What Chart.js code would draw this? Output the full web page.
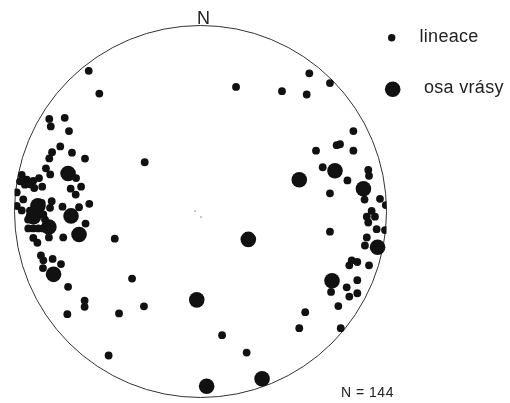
<!DOCTYPE html>
<html>
<head>
<meta charset="utf-8">
<script src="https://cdn.jsdelivr.net/npm/chart.js@4.4.1/dist/chart.umd.min.js"></script>
<style>
  html, body { margin: 0; padding: 0; background: #fff; }
  #wrap { width: 510px; height: 403px; }
</style>
</head>
<body>
<div id="wrap"><canvas id="myChart" width="510" height="403"></canvas></div>
<script>
// souradnice v ploose projekce (polomer = 1)
var lineaceX = [
  -0.601, -0.544, 0.191, 0.585, 0.696, 0.438, 0.571, -0.300,
  -0.813, -0.730, -0.805, -0.707, -0.754, -0.798, -0.691, -0.813, -0.621, -0.831,
  -0.808, -0.669, -0.698, -0.642, -0.671, -0.598, -0.653, -0.742, -0.618, -0.738,
  -0.899, -0.877, -0.926, -0.899, -0.872, -0.847, -0.800, -0.961, -0.988, -0.953,
  -0.988, -0.961, -0.934, -0.944, -0.894, -0.899, -0.868, -0.851, -0.970, -0.854,
  -0.845, -0.809, -0.858, -0.845, -0.847, -0.795, -0.750, -0.712,
  -0.917, -0.836, -0.927, -0.815, -0.917,
  -0.461, -0.368, -0.304, -0.438, -0.623, -0.623, -0.716, 0.116, 0.248, -0.494,
  0.531, 0.563, 0.754, 0.741, 0.696, 0.696, 0.822, 0.732, 0.750, 0.822, 0.621,
  0.657, 0.790, 0.902, 0.906, 0.882, 0.965, 0.996, 0.920, 0.894, 0.938, 0.902,
  0.947, 0.992, 0.894, 0.884, 0.813, 0.800, 0.843, 0.906, 0.843, 0.702, 0.786,
  0.800, 0.843
];
var lineaceY = [
  0.766, 0.642, 0.678, 0.752, 0.699, 0.655, 0.637, 0.268,
  0.504, 0.510, 0.463, 0.438, 0.354, 0.323, 0.320, 0.289, 0.288, 0.235,
  0.202, 0.182, 0.124, 0.135, 0.092, 0.042, 0.023, 0.026, -0.066, -0.141,
  -0.144, -0.170, -0.092, -0.092, -0.092, -0.092, 0.056, 0.006, 0.030, 0.066,
  0.104, 0.199, 0.173, 0.146, 0.128, 0.167, 0.182, 0.135, 0.164, 0.047,
  -0.016, 0.020, -0.239, -0.266, -0.308, -0.258, -0.286, -0.410,
  0.004, -0.044, -0.044, -0.141, 0.148,
  -0.148, -0.365, -0.516, -0.555, -0.485, -0.519, -0.559, -0.673, -0.768, -0.784,
  -0.635, -0.548, -0.635, -0.515, -0.110, 0.099, 0.438, 0.361, 0.366, 0.331, 0.331,
  0.241, 0.169, 0.226, 0.194, 0.065, 0.069, 0.035, 0.003, -0.028, -0.028, -0.060,
  -0.096, -0.101, -0.141, -0.185, -0.266, -0.293, -0.275, -0.293, -0.374, -0.438, -0.413,
  -0.463, -0.445
];
var osaX = [-0.712, -0.696, -0.653, -0.790, -0.874, -0.898, -0.815,
            0.531, 0.723, 0.876, 0.952, 0.707, 0.257, -0.020, 0.033, 0.331];
var osaY = [0.207, -0.024, -0.125, -0.342, 0.031, -0.028, -0.084,
            0.173, 0.222, 0.124, -0.195, -0.377, -0.152, -0.481, -0.951, -0.911];

var nazvy = ['lineace', 'osa vrásy'];
var pocet = 'N = 144';

function body(xs, ys){
  var out = [];
  for (var i = 0; i < xs.length; i++){
    out.push({x: xs[i], y: ys[i]});
  }
  return out;
}

const stereonet = {
  id: 'stereonet',
  beforeDatasetsDraw: function(chart){
    var c = chart.ctx;
    var sx = chart.scales.x, sy = chart.scales.y;
    var cx = sx.getPixelForValue(0), cy = sy.getPixelForValue(0);
    var r = sx.getPixelForValue(1) - cx;
    c.save();
    c.strokeStyle = '#333';
    c.lineWidth = 1;
    c.beginPath();
    c.arc(cx, cy, r, 0, Math.PI * 2);
    c.stroke();
    // drobne znacky ve stredu
    c.fillStyle = '#222';
    c.fillRect(cx - 6, cy - 1, 1, 1);
    c.fillRect(cx, cy + 5, 1, 1);
    c.restore();
  },
  afterDraw: function(chart){
    var c = chart.ctx;
    var sx = chart.scales.x, sy = chart.scales.y;
    var cx = sx.getPixelForValue(0), cy = sy.getPixelForValue(0);
    var r = sx.getPixelForValue(1) - cx;
    c.save();
    c.fillStyle = '#222';
    c.textAlign = 'center';
    c.textBaseline = 'alphabetic';
    c.font = '18px "Liberation Sans", Arial, sans-serif';
    c.fillText('N', cx + 3, cy - r - 1.5);

    // legenda
    c.textAlign = 'left';
    c.font = '18px "Liberation Sans", Arial, sans-serif';
    c.letterSpacing = '0.3px';
    c.fillStyle = '#111';
    c.beginPath(); c.arc(391.7, 37.7, 3.7, 0, Math.PI * 2); c.fill();
    c.beginPath(); c.arc(392.7, 89.3, 7.8, 0, Math.PI * 2); c.fill();
    c.fillStyle = '#222';
    c.fillText(nazvy[0], 419.5, 42.3);
    c.fillText(nazvy[1], 424, 93.3);

    c.font = '14px "Liberation Sans", Arial, sans-serif';
    c.letterSpacing = '0.5px';
    c.fillText(pocet, 341, 397.3);
    c.restore();
  }
};

const ctx = document.getElementById('myChart');
new Chart(ctx, {
  type: 'scatter',
  data: {
    datasets: [{
      label: nazvy[0],
      data: body(lineaceX, lineaceY),
      pointRadius: 3.9,
      pointHoverRadius: 3.9,
      backgroundColor: '#111',
      borderWidth: 0
    }, {
      label: nazvy[1],
      data: body(osaX, osaY),
      pointRadius: 7.8,
      pointHoverRadius: 7.8,
      backgroundColor: '#111',
      borderWidth: 0
    }]
  },
  options: {
    responsive: false,
    animation: false,
    layout: {
      padding: {left: 14.5, right: 123.5, top: 27.8, bottom: 3.2}
    },
    plugins: {
      legend: {display: false},
      tooltip: {enabled: false}
    },
    scales: {
      x: {min: -1, max: 1, display: false},
      y: {min: -1, max: 1, display: false}
    }
  },
  plugins: [stereonet]
});
</script>
</body>
</html>
